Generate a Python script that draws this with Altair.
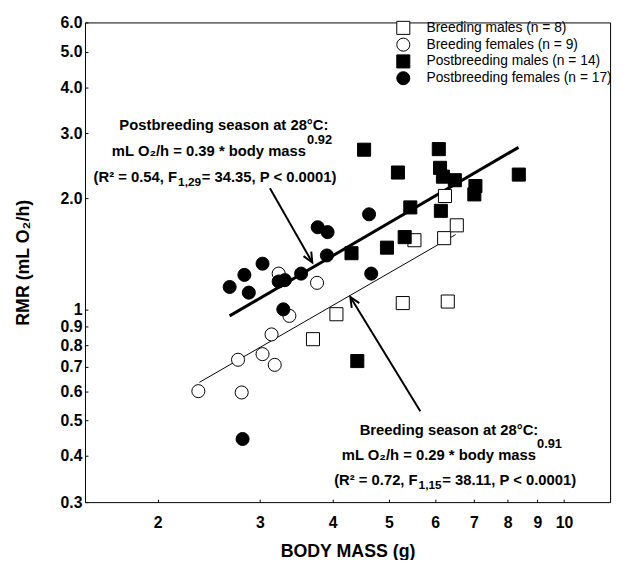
import math
import altair as alt
import pandas as pd

FONT = "Liberation Sans"

# ---------------- data ----------------
groups = [
    "Breeding males (n = 8)",
    "Breeding females (n = 9)",
    "Postbreeding males (n = 14)",
    "Postbreeding females (n = 17)",
]

# Breeding males (open squares)
bm_mass = [6.24, 6.54, 6.22, 5.53, 5.28, 6.31, 4.06, 3.70]
bm_rmr = [2.03, 1.69, 1.56, 1.54, 1.04, 1.05, 0.97, 0.83]

# Breeding females (open circles)
bf_mass = [3.23, 3.76, 3.37, 3.14, 2.75, 3.03, 3.18, 2.35, 2.79]
bf_rmr = [1.25, 1.18, 0.96, 0.855, 0.73, 0.756, 0.707, 0.60, 0.595]

# Postbreeding males (filled squares)
pm_mass = [4.53, 6.09, 5.18, 6.12, 6.19, 6.49, 7.04, 7.01, 8.36, 5.44, 6.14, 5.32, 4.96, 4.31, 4.41]
pm_rmr = [2.71, 2.72, 2.35, 2.42, 2.29, 2.24, 2.16, 2.05, 2.32, 1.89, 1.85, 1.57, 1.47, 1.42, 0.724]

# Postbreeding females (filled circles)
pf_mass = [4.62, 3.77, 3.92, 3.91, 3.53, 3.23, 3.31, 3.03, 2.82, 2.66, 2.87, 4.66, 3.29, 2.80]
pf_rmr = [1.81, 1.67, 1.62, 1.40, 1.25, 1.19, 1.20, 1.33, 1.24, 1.15, 1.11, 1.25, 1.00, 0.445]

# regression lines (end points)
post_line_mass = [2.66, 8.35]
post_line_rmr = [0.96, 2.75]
breed_line_mass = [2.36, 6.51]
breed_line_rmr = [0.634, 1.595]

# arrows: start -> tip
arrow_names = ["post", "breed"]
arrow_start_mass = [3.12, 5.66]
arrow_start_rmr = [2.13, 0.529]
arrow_tip_mass = [3.69, 4.29]
arrow_tip_rmr = [1.34, 1.08]

# axis ticks
x_ticks = [2, 3, 4, 5, 6, 7, 8, 9, 10]
y_ticks = [0.3, 0.4, 0.5, 0.6, 0.7, 0.8, 0.9, 1, 2, 3, 4, 5, 6]
x_domain = [1.5, 12]
y_domain = [0.3, 6.0]

# annotation texts
title_lines = ["Postbreeding season at 28°C:", "Breeding season at 28°C:"]
title_mass = [2.60, 6.34]
title_rmr = [3.16, 0.470]

eq_main = ["mL O₂/h = 0.39 * body mass", "mL O₂/h = 0.29 * body mass"]
eq_exp = ["0.92", "0.91"]
eq_mass = [3.60, 8.95]
eq_rmr = [2.69, 0.403]

stat_pre = ["(R² = 0.54, F", "(R² = 0.72, F"]
stat_sub = ["1,29", "1,15"]
stat_post = [" = 34.35, P < 0.0001)", " = 38.11, P < 0.0001)"]
stat_mass = [2.16, 5.60]
stat_rmr = [2.29, 0.344]

# ---------------- chart ----------------
W, H = 532, 486

x_scale = alt.Scale(type="log", domain=x_domain, nice=False)
y_scale = alt.Scale(type="log", domain=y_domain, nice=False)

x_axis = alt.Axis(
    values=x_ticks, format="~g", grid=False, domain=False, offset=-3,
    tickSize=3, tickColor="black", tickWidth=1, labelPadding=13,
    labelFont=FONT, labelFontSize=16, labelFontWeight="bold", labelColor="black",
    labelFlush=False, labelOverlap=False,
    titleFont=FONT, titleFontSize=18, titleFontWeight="bold", titleColor="black",
    titlePadding=12,
)
y_axis = alt.Axis(
    values=y_ticks,
    labelExpr="datum.value >= 2 ? format(datum.value, '.1f') : format(datum.value, '~g')",
    grid=False, domain=False, offset=-3,
    tickSize=3, tickColor="black", tickWidth=1, labelPadding=3,
    labelFont=FONT, labelFontSize=16, labelFontWeight="bold", labelColor="black",
    labelFlush=False, labelOverlap=False,
    titleFont=FONT, titleFontSize=18, titleFontWeight="bold", titleColor="black",
    titlePadding=28,
)

X = alt.X("mass:Q", scale=x_scale, axis=x_axis, title="BODY MASS (g)")
Y = alt.Y("rmr:Q", scale=y_scale, axis=y_axis, title="RMR (mL O₂/h)")

rows = []
for g, ms, rs in zip(groups, [bm_mass, bf_mass, pm_mass, pf_mass], [bm_rmr, bf_rmr, pm_rmr, pf_rmr]):
    for m, r in zip(ms, rs):
        rows.append({"group": g, "mass": m, "rmr": r})
pts = pd.DataFrame(rows)

legend = alt.Legend(
    title=None, orient="none", legendX=315, legendY=-2, padding=0,
    symbolSize=175, symbolStrokeWidth=1,
    labelFont=FONT, labelFontSize=14, labelColor="black", labelOffset=16,
    labelLimit=400, rowPadding=-3.5,
)

points = alt.Chart(pts).mark_point(
    filled=True, strokeWidth=1, size=175, opacity=1
).encode(
    x=X, y=Y,
    stroke=alt.Stroke("group:N", scale=alt.Scale(domain=groups, range=["black", "black", "black", "black"]), legend=legend),
    shape=alt.Shape("group:N", scale=alt.Scale(domain=groups, range=["square", "circle", "square", "circle"]), legend=legend),
    fill=alt.Fill("group:N", scale=alt.Scale(domain=groups, range=["white", "white", "black", "black"]), legend=legend),
)

post_df = pd.DataFrame({"mass": post_line_mass, "rmr": post_line_rmr})
breed_df = pd.DataFrame({"mass": breed_line_mass, "rmr": breed_line_rmr})
post_line = alt.Chart(post_df).mark_line(color="black", strokeWidth=3).encode(x=X, y=Y)
breed_line = alt.Chart(breed_df).mark_line(color="black", strokeWidth=1).encode(x=X, y=Y)

# arrow shafts
shaft_rows = []
for n, sm, sr, tm, tr in zip(arrow_names, arrow_start_mass, arrow_start_rmr, arrow_tip_mass, arrow_tip_rmr):
    shaft_rows.append({"arrow": n, "mass": sm, "rmr": sr})
    shaft_rows.append({"arrow": n, "mass": tm, "rmr": tr})
shafts = alt.Chart(pd.DataFrame(shaft_rows)).mark_line(color="black", strokeWidth=2).encode(
    x=X, y=Y, detail="arrow:N"
)

# arrow heads: orientation from the scale geometry
lx = math.log(x_domain[1] / x_domain[0])
ly = math.log(y_domain[1] / y_domain[0])
head_rows = []
for sm, sr, tm, tr in zip(arrow_start_mass, arrow_start_rmr, arrow_tip_mass, arrow_tip_rmr):
    dx = W * math.log(tm / sm) / lx
    dy = -H * math.log(tr / sr) / ly
    ang = math.degrees(math.atan2(dx, -dy)) % 360
    head_rows.append({"mass": tm, "rmr": tr, "angle": ang})
heads = alt.Chart(pd.DataFrame(head_rows)).mark_point(
    shape="M-0.45,1L0,0L0.45,1", filled=False, stroke="black", strokeWidth=2, size=400, opacity=1
).encode(x=X, y=Y, angle=alt.Angle("angle:Q", scale=None))

FS = 15
txt_common = dict(font=FONT, fontWeight="bold", color="black", baseline="middle")

t1 = alt.Chart(pd.DataFrame({"t": title_lines, "mass": title_mass, "rmr": title_rmr})).mark_text(
    align="center", fontSize=FS, **txt_common).encode(x=X, y=Y, text="t:N")
t2 = alt.Chart(pd.DataFrame({"t": eq_main, "mass": eq_mass, "rmr": eq_rmr})).mark_text(
    align="right", fontSize=FS, **txt_common).encode(x=X, y=Y, text="t:N")
t2e = alt.Chart(pd.DataFrame({"t": eq_exp, "mass": eq_mass, "rmr": eq_rmr})).mark_text(
    align="left", fontSize=13, dx=1, dy=-11, **txt_common).encode(x=X, y=Y, text="t:N")
t3 = alt.Chart(pd.DataFrame({"t": stat_pre, "mass": stat_mass, "rmr": stat_rmr})).mark_text(
    align="right", fontSize=FS, **txt_common).encode(x=X, y=Y, text="t:N")
t3s = alt.Chart(pd.DataFrame({"t": stat_sub, "mass": stat_mass, "rmr": stat_rmr})).mark_text(
    align="left", fontSize=12, dx=1, dy=5, **txt_common).encode(x=X, y=Y, text="t:N")
t3r = alt.Chart(pd.DataFrame({"t": stat_post, "mass": stat_mass, "rmr": stat_rmr})).mark_text(
    align="left", fontSize=FS, dx=25, **txt_common).encode(x=X, y=Y, text="t:N")

chart = alt.layer(
    breed_line, post_line, shafts, heads, t1, t2, t2e, t3, t3s, t3r, points
).properties(
    width=W, height=H,
    autosize=alt.AutoSizeParams(type="none"),
    padding={"left": 78, "top": 11, "right": 6, "bottom": 55},
    background="white",
).configure_view(
    stroke="black", strokeWidth=1
)

chart.save("out.html", embed_options={"renderer": "svg", "actions": False})
